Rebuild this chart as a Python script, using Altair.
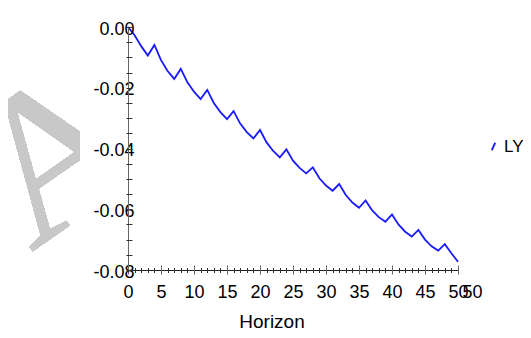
import altair as alt
import pandas as pd

horizon = list(range(0, 51))
ly = [0.0, -0.0027, -0.0063, -0.0094, -0.0059, -0.0109, -0.0145, -0.0171, -0.0138,
      -0.0182, -0.0213, -0.0237, -0.0207, -0.0250, -0.0280, -0.0303, -0.0277,
      -0.0318, -0.0346, -0.0367, -0.0339, -0.0380, -0.0408, -0.0429, -0.0403,
      -0.0440, -0.0464, -0.0482, -0.0462, -0.0498, -0.0522, -0.0539, -0.0517,
      -0.0553, -0.0578, -0.0595, -0.0571, -0.0604, -0.0626, -0.0641, -0.0617,
      -0.0651, -0.0674, -0.0690, -0.0668, -0.0700, -0.0722, -0.0736, -0.0715,
      -0.0745, -0.0773]
series = ["LY"] * len(horizon)

y_labels = [0.0, -0.02, -0.04, -0.06, -0.08]
y_minor = [0.0, -0.005, -0.01, -0.015, -0.02, -0.025, -0.03, -0.035, -0.04,
           -0.045, -0.05, -0.055, -0.06, -0.065, -0.07, -0.075, -0.08]
x_labels = [0, 5, 10, 15, 20, 25, 30, 35, 40, 45, 50]
x_extra = [50]

df = pd.DataFrame({"h": horizon, "v": ly, "s": series})

FONT = "Liberation Sans, Arial, sans-serif"
FS = 18
xs = alt.Scale(domain=[0, 50], nice=False, zero=False)
ys = alt.Scale(domain=[-0.08, 0], nice=False, zero=False)

base = alt.Chart(df)

# watermark
wm = base.mark_text(text="A", font="Liberation Serif, Times New Roman, serif",
                    fontSize=210, color="#c8c8c8", angle=325, align="center",
                    baseline="alphabetic").encode(
    x=alt.value(-35), y=alt.value(182))
cover = base.mark_rect(color="white").encode(
    x=alt.value(-48), x2=alt.value(45), y=alt.value(63), y2=alt.value(240))

main = base.mark_line(strokeWidth=1.8).encode(
    x=alt.X("h:Q", scale=xs, axis=alt.Axis(
        orient="bottom", values=x_labels, ticks=False, tickSize=0, domain=True,
        domainColor="#222", domainWidth=1, labelFont=FONT, labelFontSize=FS,
        labelColor="black", labelPadding=13, labelFlush=False, labelOverlap=False,
        grid=False, title="Horizon", titleFont=FONT, titleFontSize=19,
        titleFontWeight="normal", titleColor="black", titleX=143.5, titleY=57,
        titleAlign="center", titleBaseline="alphabetic", zindex=2)),
    y=alt.Y("v:Q", scale=ys, axis=alt.Axis(
        orient="left", values=y_labels, ticks=False, tickSize=0, domain=True,
        domainColor="#666", labelFont=FONT, labelFontSize=FS, labelColor="black",
        labelPadding=-6, labelFlush=False, labelOverlap=False, grid=False,
        labelExpr="(datum.value < 0 ? '-' : '') + format(abs(datum.value), '.2f')",
        labelOffset=2, title=None, zindex=2)),
    color=alt.Color("s:N", scale=alt.Scale(range=["#1a1aff"]), legend=alt.Legend(
        title=None, orient="none", legendX=357, legendY=111, padding=0,
        labelFont=FONT, labelFontSize=17, labelColor="black", labelOffset=2,
        symbolType="M-0.23,0.5L0.23,-0.5", symbolSize=225, symbolStrokeWidth=1.8,
        symbolStrokeColor="#1a1aff", symbolFillColor="transparent")),
)

minor = base.mark_line(opacity=0).encode(
    x=alt.X("h:Q", scale=xs, axis=alt.Axis(
        orient="bottom", values=horizon, tickSize=5, offset=-2.5, domain=False,
        labels=False, title=None, grid=False, tickColor="#333", zindex=2)),
    y=alt.Y("v:Q", scale=ys, axis=alt.Axis(
        orient="left", values=y_minor, tickSize=6, offset=-4, domain=False,
        labels=False, title=None, grid=False, tickColor="#333", zindex=2)),
)

major = base.mark_line(opacity=0).encode(
    x=alt.X("h:Q", scale=xs, axis=alt.Axis(
        orient="bottom", values=x_labels, tickSize=9, offset=-5, domain=False,
        labels=False, title=None, grid=False, tickColor="#666", zindex=2)),
    y=alt.Y("v:Q", scale=ys, axis=None),
)

extra = base.mark_line(opacity=0).encode(
    x=alt.X("h:Q", scale=xs, axis=alt.Axis(
        orient="bottom", values=x_extra, ticks=False, tickSize=0, domain=False,
        labelFont=FONT, labelFontSize=FS, labelColor="black", labelPadding=13,
        labelOffset=14, labelFlush=False, labelOverlap=False, title=None,
        grid=False, zindex=2)),
    y=alt.Y("v:Q", scale=ys, axis=None),
)

chart = alt.layer(wm, cover, main, minor, major, extra).resolve_axis(
    x="independent", y="independent"
).properties(
    width=330, height=243,
    autosize=alt.AutoSizeParams(type="none"),
    padding={"left": 120, "top": 19, "right": 65, "bottom": 60},
    background="white",
).configure_view(stroke=None)

chart.save("out.html", embed_options={"renderer": "svg", "actions": False})
